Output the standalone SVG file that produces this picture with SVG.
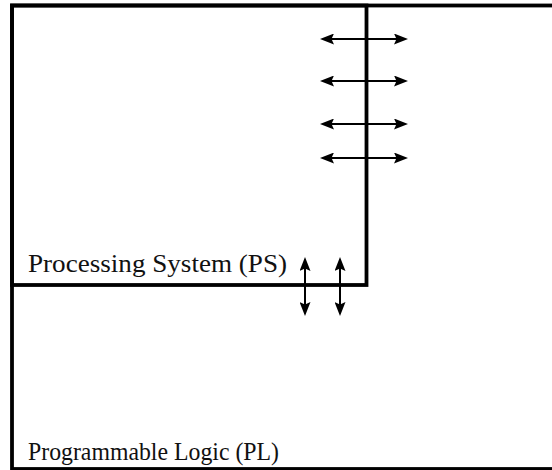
<svg xmlns="http://www.w3.org/2000/svg" width="552" height="470" viewBox="0 0 552 470">
  <style>
    .box { fill: none; stroke: #000; stroke-width: 3.8; }
    .conn { stroke: #000; stroke-width: 2; fill: none; marker-start: url(#ah); marker-end: url(#ah); }
    .lbl { font-family: "Liberation Serif", "Times New Roman", serif; font-size: 25px; fill: #111; }
  </style>
  <defs>
    <marker id="ah" viewBox="0 0 14 11" refX="11" refY="5.5" markerWidth="14" markerHeight="11" markerUnits="userSpaceOnUse" orient="auto-start-reverse">
      <path d="M0,0 L14,5.5 L0,11 L2.5,5.5 z" fill="#000"/>
    </marker>
  </defs>
  <rect width="552" height="470" fill="#fff"/>
  <g id="pl">
    <rect class="box" x="12" y="5.5" width="560" height="463.5"/>
    <text class="lbl" x="28" y="460" textLength="251" lengthAdjust="spacingAndGlyphs">Programmable Logic (PL)</text>
  </g>
  <g id="ps">
    <rect class="box" x="12" y="5.5" width="354.5" height="279.5"/>
    <text class="lbl" x="28" y="272" textLength="259" lengthAdjust="spacingAndGlyphs">Processing System (PS)</text>
  </g>
  <g id="connectors">
    <line class="conn" x1="323" y1="39" x2="405" y2="39"/>
    <line class="conn" x1="323" y1="81" x2="405" y2="81"/>
    <line class="conn" x1="323" y1="124" x2="405" y2="124"/>
    <line class="conn" x1="323" y1="158" x2="405" y2="158"/>
    <line class="conn" x1="305" y1="260" x2="305" y2="313"/>
    <line class="conn" x1="340" y1="260" x2="340" y2="313"/>
  </g>
</svg>
